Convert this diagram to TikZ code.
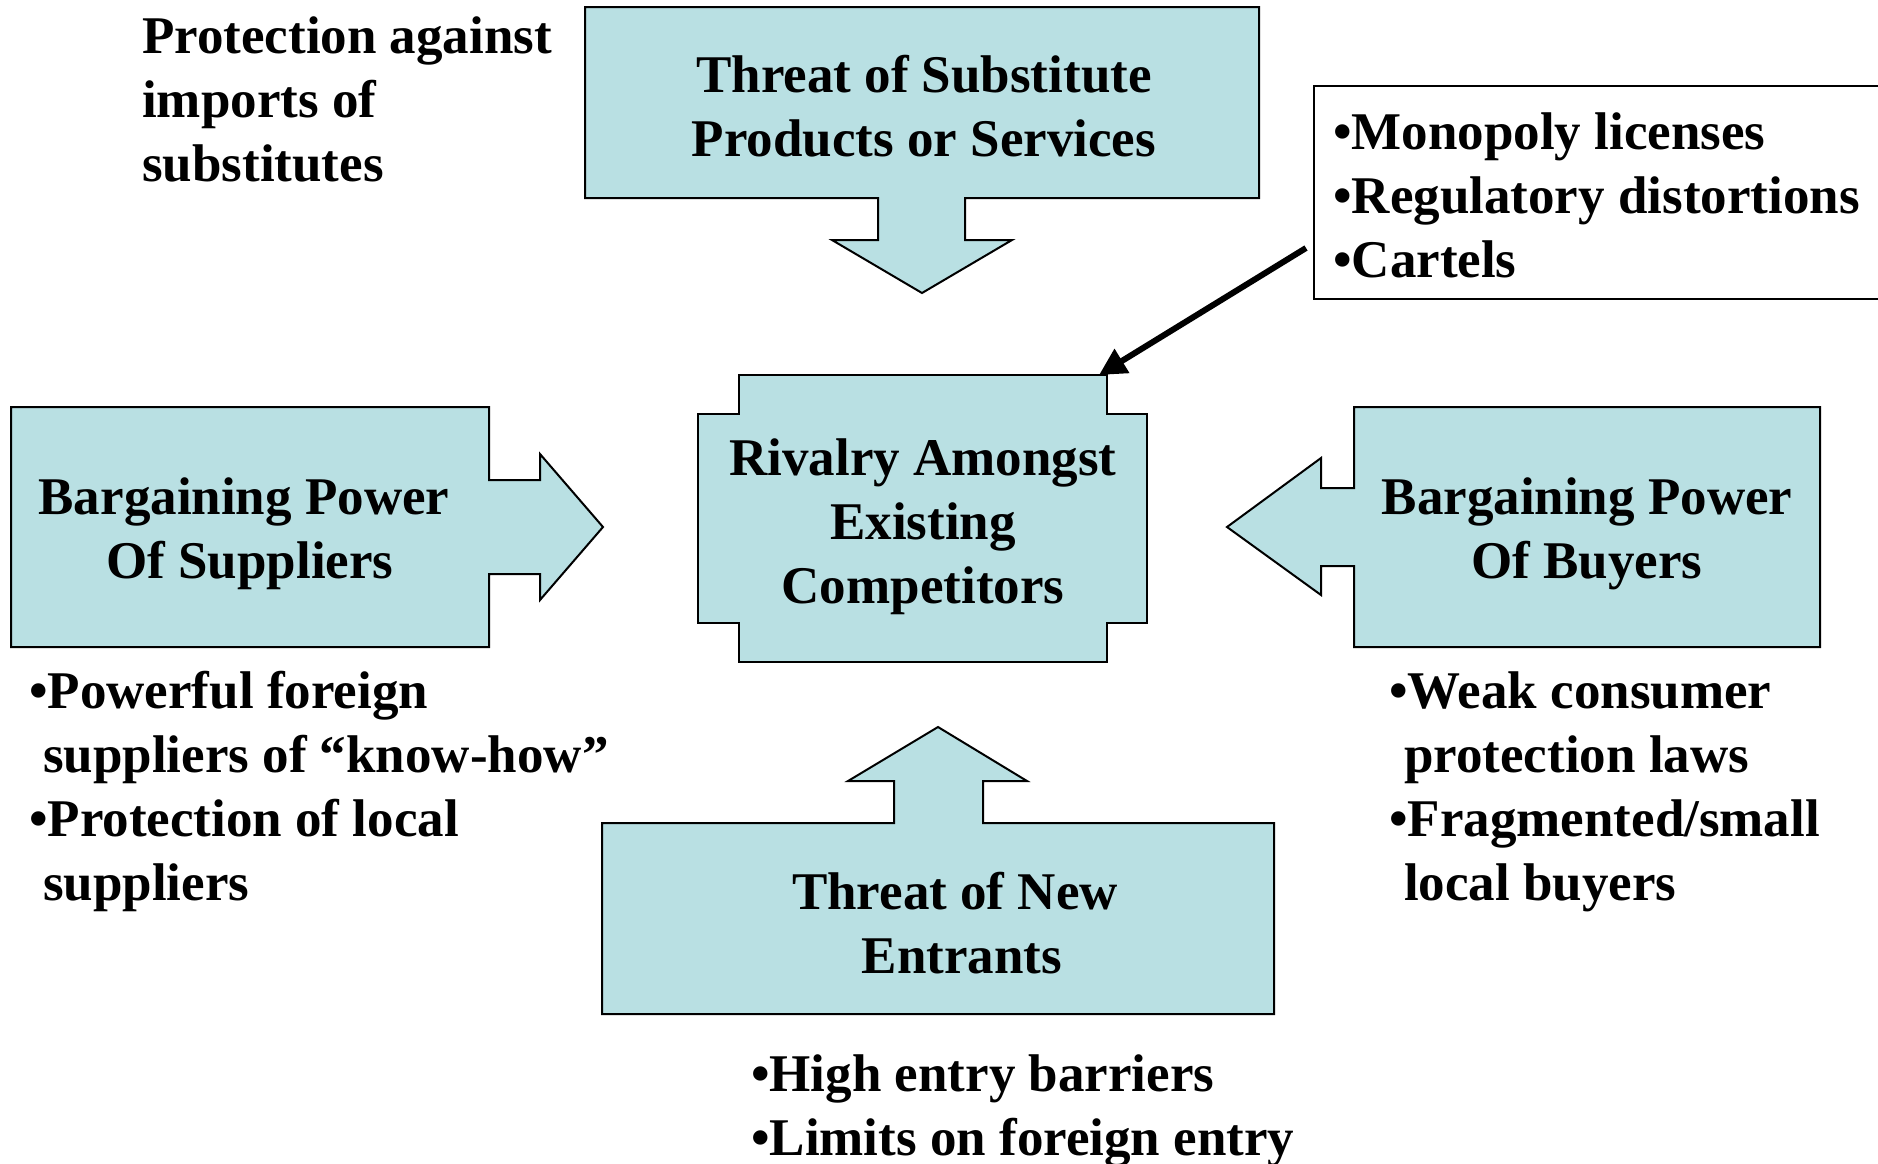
\documentclass[tikz,border=0pt]{standalone}
\usepackage{fontspec}
\setmainfont{Liberation Serif}
\usetikzlibrary{arrows.meta}
\definecolor{boxfill}{RGB}{185,224,227}
\tikzset{
  shapebox/.style={draw=black, line width=2pt, fill=boxfill, line join=miter},
  boxtext/.style={inner sep=0pt, align=center, font=\bfseries\fontsize{53}{64}\selectfont},
  plaintext/.style={inner sep=0pt, align=left, font=\bfseries\fontsize{53}{64}\selectfont},
  linkarrow/.style={line width=6pt, -{Triangle[length=27pt,width=27pt]}},
}
\begin{document}
\begin{tikzpicture}[x=1pt,y=-1pt]
\useasboundingbox (0,0) rectangle (1878,1163);
\clip (0,0) rectangle (1878,1163);

% Threat of substitutes (box with down arrow)
\draw[shapebox] (585,7) -- (1259,7) -- (1259,198) -- (965,198) -- (965,240) -- (1012,240)
  -- (922,293) -- (832,240) -- (878,240) -- (878,198) -- (585,198) -- cycle;
\node[boxtext, anchor=base] (subst) at (924,156) {Threat of Substitute\\Products or Services};

% Suppliers (box with right arrow)
\draw[shapebox] (11,407) -- (489,407) -- (489,480) -- (540,480) -- (540,454) -- (603,527)
  -- (540,600) -- (540,574) -- (489,574) -- (489,647) -- (11,647) -- cycle;
\node[boxtext, anchor=base] (suppl) at (244,578) {Bargaining Power\\\hspace*{12pt}Of Suppliers};

% Buyers (box with left arrow)
\draw[shapebox] (1820,407) -- (1354,407) -- (1354,488) -- (1321,488) -- (1321,458) -- (1227,527)
  -- (1321,595) -- (1321,566) -- (1354,566) -- (1354,647) -- (1820,647) -- cycle;
\node[boxtext, anchor=base] (buyer) at (1587,578) {Bargaining Power\\Of Buyers};

% New entrants (box with up arrow)
\draw[shapebox] (602,823) -- (894,823) -- (894,781) -- (848,781) -- (938,727) -- (1027,781)
  -- (983,781) -- (983,823) -- (1274,823) -- (1274,1014) -- (602,1014) -- cycle;
\node[boxtext, anchor=base] (entr) at (955,973) {Threat of New\\\hspace*{14pt}Entrants};

% Rivalry (centre)
\draw[shapebox] (739,375) -- (1107,375) -- (1107,414) -- (1147,414) -- (1147,623) -- (1107,623)
  -- (1107,662) -- (739,662) -- (739,623) -- (698,623) -- (698,414) -- (739,414) -- cycle;
\node[boxtext, anchor=base] (rival) at (923,603) {Rivalry Amongst\\Existing\\Competitors};

% Monopoly box
\draw[black, line width=2pt, fill=white] (1314,86) rectangle (1900,299);
\node[plaintext, anchor=base west] (mono) at (1333,277)
  {•Monopoly licenses\\•Regulatory distortions\\•Cartels};

% Connector
\coordinate (arrS) at (1306,248);
\coordinate (arrE) at (1099,375);
\draw[linkarrow] (arrS) -- (arrE);

% Free texts
\node[plaintext, anchor=base west] (imports) at (142,181)
  {Protection against\\imports of\\substitutes};
\node[plaintext, anchor=base west] (supnotes) at (29,900)
  {•Powerful foreign\\\hspace*{14pt}suppliers of “know-how”\\•Protection of local\\\hspace*{14pt}suppliers};
\node[plaintext, anchor=base west] (buynotes) at (1389,900)
  {•Weak consumer\\\hspace*{15pt}protection laws\\•Fragmented/small\\\hspace*{15pt}local buyers};
\node[plaintext, anchor=base west] (entnotes) at (751,1155)
  {•High entry barriers\\•Limits on foreign entry};
\end{tikzpicture}
\end{document}
